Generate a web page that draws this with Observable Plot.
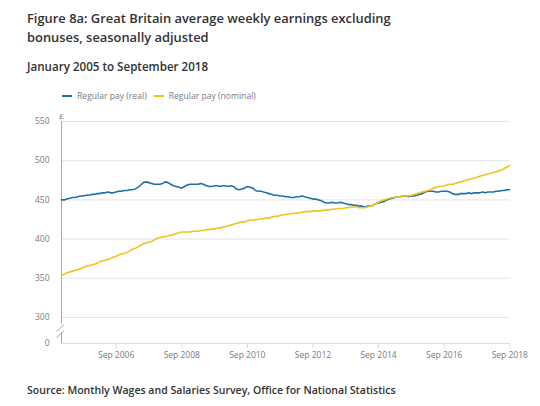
<!DOCTYPE html>
<html><head><meta charset="utf-8">
<script src="https://cdn.jsdelivr.net/npm/d3@7"></script>
<script src="https://cdn.jsdelivr.net/npm/@observablehq/plot@0.6"></script>
<style>
body{margin:0;background:#fff;font-family:"Open Sans",sans-serif;}
#wrap{position:relative;width:540px;height:406px;overflow:hidden;background:#fff;}
.t{position:absolute;left:27px;color:#323132;font-weight:600;white-space:nowrap;}
#title{top:9px;font-size:12.9px;line-height:19px;font-weight:600;}
#sub{top:59px;font-size:11.6px;}
#src{top:383px;font-size:10.55px;}
#legend{position:absolute;top:90px;left:62px;font-size:8.6px;color:#7a7a7a;white-space:nowrap;}
#legend span.sw{display:inline-block;width:10px;height:2px;vertical-align:middle;margin-right:5px;position:relative;top:-1px;}
#legend span.item{margin-right:7px;}
#pound{position:absolute;left:59px;top:110px;font-size:8px;color:#7a7a7a;}
#chart{position:absolute;left:0;top:105px;}
</style>
</head><body>
<div id="wrap">
  <div class="t" id="title">Figure 8a: Great Britain average weekly earnings excluding<br>bonuses, seasonally adjusted</div>
  <div class="t" id="sub">January 2005 to September 2018</div>
  <div id="legend"></div>
  <div id="pound">£</div>
  <div id="chart"></div>
  <div class="t" id="src">Source: Monthly Wages and Salaries Survey, Office for National Statistics</div>
</div>
<script>
// ---- data ----
const startMonth = "2005-01";
const endMonth = "2018-09";
const seriesNames = ["Regular pay (real)", "Regular pay (nominal)"];
const seriesColors = ["#1f72a6", "#ecc51f"];
const realPay = [
  450,450,451,452,453,453,454,455,455,456,456,457,
  457,458,458,459,459,460,459,459,460,461,461,462,
  462,463,463,464,466,469,472,473,472,471,470,470,
  470,471,473,472,470,468,467,466,465,467,469,470,
  470,470,470,471,470,468,467,467,468,468,467,468,
  468,467,468,467,464,463,464,465,467,466,465,462,
  461,461,460,459,458,457,456,456,455,455,454,454,
  453,453,454,454,455,454,453,452,451,451,450,449,
  447,446,446,447,446,446,447,446,445,444,444,443,
  443,442,442,441,442,442,443,445,446,447,448,450,
  451,452,453,454,454,455,455,454,455,455,456,457,
  458,460,461,461,461,460,460,461,461,461,460,458,
  457,457,458,458,458,459,458,459,459,459,460,459,
  460,460,460,461,461,462,462,463,463
];
const nominalPay = [
  354,355,357,358,359,360,361,362,364,365,366,367,
  368,369,371,372,373,374,375,377,378,380,381,382,
  383,385,387,388,390,392,394,395,396,397,399,401,
  402,403,403,404,405,406,407,408,409,409,409,409,
  410,410,410,411,411,412,412,413,413,414,414,415,
  416,417,418,419,420,421,422,422,423,424,424,425,
  425,426,426,427,427,428,429,429,430,431,431,432,
  432,433,433,434,434,435,435,435,436,436,436,436,
  437,437,437,438,438,439,439,439,440,440,441,441,
  441,440,440,440,441,442,443,445,447,449,450,451,
  452,453,453,454,454,455,455,455,456,457,458,459,
  460,461,462,463,465,466,467,467,468,469,470,470,
  471,472,473,474,475,476,477,478,479,480,481,482,
  483,484,485,486,487,488,490,492,494
];
const yTicks = [0, 300, 350, 400, 450, 500, 550];
const gridTicks = [300, 350, 400, 450, 500, 550];
const xTickLabels = ["Sep 2006","Sep 2008","Sep 2010","Sep 2012","Sep 2014","Sep 2016","Sep 2018"];

// ---- build ----
const parseM = d3.utcParse("%Y-%m");
const parseTick = d3.utcParse("%b %Y");
const t0 = parseM(startMonth), t1 = parseM(endMonth);
const months = d3.utcMonth.range(t0, d3.utcMonth.offset(t1, 1));
const rows = [];
months.forEach((d, i) => {
  rows.push({date: d, value: realPay[i], series: seriesNames[0]});
  rows.push({date: d, value: nominalPay[i], series: seriesNames[1]});
});
const xTicks = xTickLabels.map(parseTick);

// legend
const lg = document.getElementById("legend");
seriesNames.forEach((n, i) => {
  const s = document.createElement("span");
  s.className = "item";
  s.innerHTML = `<span class="sw" style="background:${seriesColors[i]}"></span>${n}`;
  lg.appendChild(s);
});

const axisCol = "#d3dce5";
const textCol = "#7a7a7a";
const chart = Plot.plot({
  width: 540,
  height: 265,
  marginLeft: 61,
  marginRight: 30.7,
  marginTop: 16,
  marginBottom: 27,
  style: {fontFamily: "'Open Sans', sans-serif", background: "transparent", overflow: "visible"},
  x: {type: "utc", domain: [t0, t1]},
  y: {type: "linear", domain: [0, 290, 550], range: [238, 219.8, 16]},
  color: {domain: seriesNames, range: seriesColors},
  marks: [
    Plot.gridY(gridTicks, {stroke: "#e4e4e4", strokeOpacity: 1}),
    Plot.ruleY([0], {stroke: axisCol, strokeWidth: 1.2}),
    Plot.axisX(xTicks, {tickFormat: d3.utcFormat("%b %Y"), tickSize: 5, tickPadding: 3, stroke: axisCol, fill: textCol, fontSize: 8.5, label: null}),
    Plot.axisY(yTicks, {tickSize: 0, tickPadding: 12, fill: textCol, fontSize: 8.5, label: null, tickFormat: d => String(d)}),
    Plot.ruleX([t0], {y1: 292, y2: 550, stroke: "#a8a8a8", strokeWidth: 1}),
    Plot.ruleX([t0], {y1: 0, y2: 170, stroke: "#a8a8a8", strokeWidth: 1}),
    Plot.line(rows, {x: "date", y: "value", z: "series", stroke: "series", strokeWidth: 1.6, curve: "linear"})
  ]
});
document.getElementById("chart").appendChild(chart);

// axis break marks
const sx = chart.scale("x"), sy = chart.scale("y");
const ax = sx.apply(t0);
const yb = sy.apply(230);
const svg = d3.select(chart);
[[-4.5, 3], [-4.5, 9]].forEach(([dx, dy]) => {
  svg.append("line")
    .attr("x1", ax + dx).attr("y1", yb + dy)
    .attr("x2", ax + 3).attr("y2", yb + dy - 7)
    .attr("stroke", "#a8a8a8").attr("stroke-width", 1);
});
</script>
</body></html>
